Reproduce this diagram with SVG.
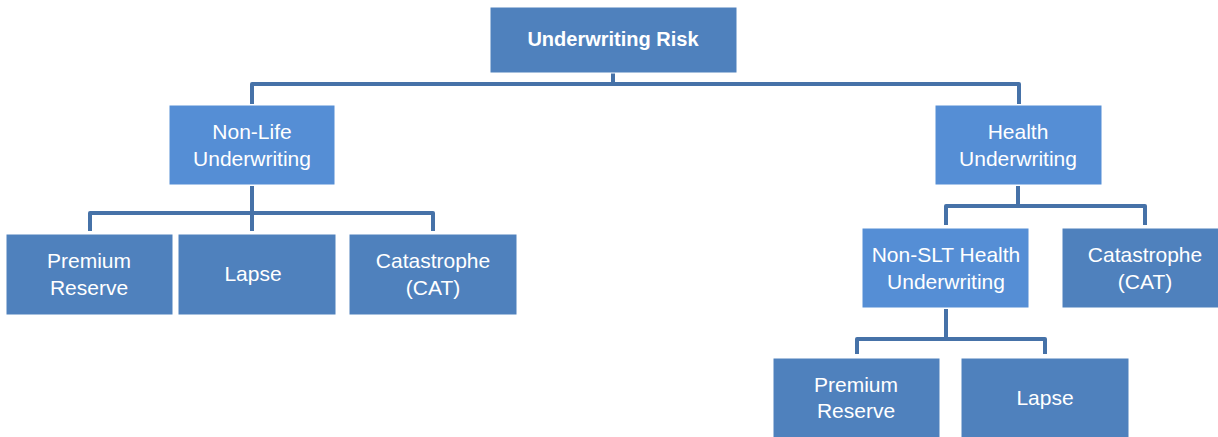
<svg xmlns="http://www.w3.org/2000/svg" width="1218" height="437" viewBox="0 0 1218 437">
<style>
.dark{fill:#4f81bd;stroke:#ffffff;stroke-width:1}
.light{fill:#558ed5;stroke:#ffffff;stroke-width:1}
.t{font-family:"Liberation Sans",Arial,sans-serif;font-size:21px;fill:#ffffff;text-anchor:middle}
.b{font-weight:bold;font-size:20px}
.c{fill:none;stroke:#4672a8;stroke-width:4;stroke-linejoin:round}
</style>
<rect width="1218" height="437" fill="#ffffff"/>
<g id="connectors">
<path class="c" d="M613 73 V84 M252 104 V84 H1019 V104"/>
<path class="c" d="M252 186 V213 M90 231 V213 H433 V231 M252 213 V231"/>
<path class="c" d="M1018 186 V206 M946 225 V206 H1145 V225"/>
<path class="c" d="M946 309 V339 M857 354 V339 H1045 V354"/>
</g>
<g id="n-root"><rect class="dark" x="490" y="7" width="247" height="66"/><text class="t b" x="613" y="46">Underwriting Risk</text></g>
<g id="n-nonlife"><rect class="light" x="169" y="105" width="166" height="80"/><text class="t" x="252" y="139">Non-Life</text><text class="t" x="252" y="166">Underwriting</text></g>
<g id="n-health"><rect class="light" x="935" y="105" width="167" height="80"/><text class="t" x="1018" y="139">Health</text><text class="t" x="1018" y="166">Underwriting</text></g>
<g id="n-premium1"><rect class="dark" x="6" y="234" width="167" height="81"/><text class="t" x="89" y="268">Premium</text><text class="t" x="89" y="295">Reserve</text></g>
<g id="n-lapse1"><rect class="dark" x="178" y="234" width="158" height="81"/><text class="t" x="253" y="281">Lapse</text></g>
<g id="n-cat1"><rect class="dark" x="349" y="234" width="168" height="81"/><text class="t" x="433" y="268">Catastrophe</text><text class="t" x="433" y="295">(CAT)</text></g>
<g id="n-nonslt"><rect class="light" x="862" y="228" width="167" height="80"/><text class="t" x="946" y="262">Non-SLT Health</text><text class="t" x="946" y="289">Underwriting</text></g>
<g id="n-cat2"><rect class="dark" x="1062" y="228" width="166" height="80"/><text class="t" x="1145" y="262">Catastrophe</text><text class="t" x="1145" y="289">(CAT)</text></g>
<g id="n-premium2"><rect class="dark" x="773" y="358" width="167" height="81"/><text class="t" x="856" y="392">Premium</text><text class="t" x="856" y="418">Reserve</text></g>
<g id="n-lapse2"><rect class="dark" x="961" y="358" width="168" height="81"/><text class="t" x="1045" y="405">Lapse</text></g>
</svg>
